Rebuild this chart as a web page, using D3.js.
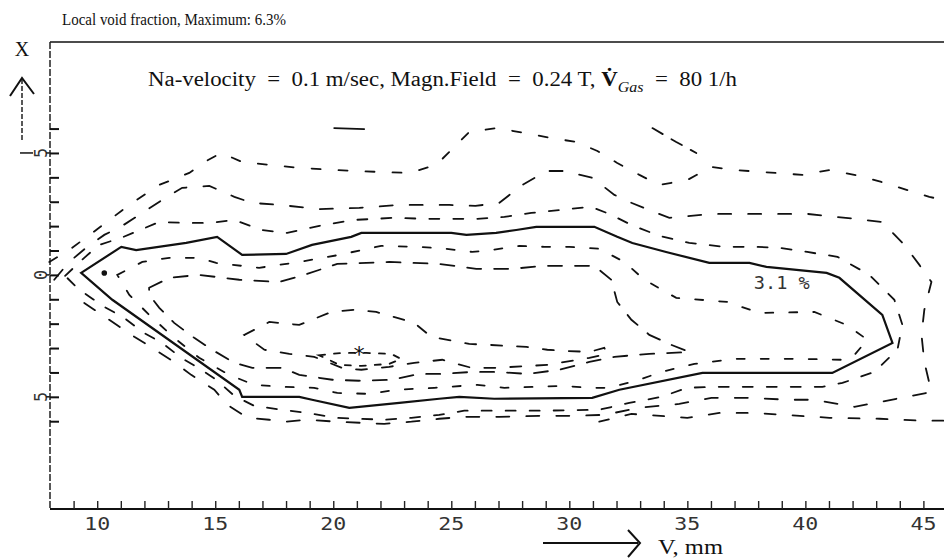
<!DOCTYPE html>
<html>
<head>
<meta charset="utf-8">
<script src="https://cdn.jsdelivr.net/npm/d3@7/dist/d3.min.js"></script>
<style>
  body { margin: 0; background: #fff; }
  svg { display: block; }
  .serif { font-family: "Liberation Serif", "Times New Roman", serif; fill: #111; }
  .plot { font-family: "DejaVu Sans Mono", monospace; fill: #333; }
</style>
</head>
<body>
<div class="chart"></div>
<script>
// axis ticks (V in mm along bottom, X along left)
var vTicks = d3.range(9, 46);
var vLabels = [10, 15, 20, 25, 30, 35, 40, 45];
var xTicks = d3.range(-6, 7);
var xLabels = [-5, 0, 5];

// 3.1 % contour (solid), [V mm, X]
var contour31 = [[9.32,-0.08],[11.02,-1.15],[11.65,-1.02],[13.77,-1.31],[15.08,-1.56],[16.14,-0.82],[18.0,-0.86],[19.1,-1.23],[20.76,-1.56],[21.19,-1.72],[25.0,-1.72],[25.64,-1.64],[26.9,-1.72],[27.75,-1.84],[28.6,-1.97],[31.06,-1.97],[32.03,-1.56],[32.67,-1.31],[34.1,-0.94],[35.93,-0.49],[37.63,-0.49],[38.35,-0.33],[40.9,-0.08],[41.44,0.12],[43.26,1.64],[43.69,2.79],[41.14,4.02],[35.64,4.02],[32.12,4.71],[30.97,5.04],[26.82,5.08],[25.34,5.0],[24.49,5.08],[22.8,5.25],[20.68,5.45],[19.1,5.12],[18.56,5.0],[16.14,5.0],[16.02,4.71],[10.64,1.02]];

// dashed contours inside the 3.1 % line
var inner1 = [[10.85,0],[11.91,-0.53],[13.05,-0.70],[14.32,-0.70],[15.04,-0.49],[16.86,-0.29],[18.56,-0.53],[20.25,-0.82],[22.03,-1.19],[23.64,-1.15],[24.79,-1.07],[25.89,-0.94],[26.69,-1.02],[27.88,-1.19],[28.94,-1.15],[30.0,-1.15],[31.27,-1.07],[32.33,-0.53],[33.18,0.20],[34.53,0.94],[36.69,1.11],[38.05,1.56],[40.38,1.52],[41.74,2.05],[42.63,2.66],[42.08,3.28],[41.53,3.48],[39.62,3.44],[37.08,3.44],[35.30,3.65],[33.90,3.98],[32.97,4.30],[31.69,4.63],[30.93,4.63],[29.70,4.55],[27.25,4.63],[26.10,4.51],[24.28,4.63],[22.67,4.71],[21.53,4.88],[20.17,4.84],[19.19,4.63],[17.84,4.59],[16.65,4.51],[15.59,4.10],[14.32,3.40],[13.26,2.58],[12.20,1.64],[11.36,0.82]];
var inner2 = [[12.20,0.53],[13.05,0.12],[14.32,0],[16.02,0.20],[17.71,0.29],[18.77,0],[20.17,-0.45],[22.37,-0.53],[24.49,-0.45],[26.06,-0.25],[27.58,-0.25],[28.94,-0.37],[31.06,-0.37],[31.78,0.20],[32.03,1.11],[32.63,1.84],[33.39,2.46],[34.32,2.87],[35.08,3.16],[33.39,3.24],[31.91,3.36],[30.85,3.57],[29.58,3.89],[28.22,4.06],[26.91,3.98],[25.85,3.98],[24.62,4.06],[23.64,4.06],[22.46,4.30],[21.10,4.34],[19.96,4.30],[18.56,4.10],[17.84,3.81],[16.57,3.81],[15.81,3.61],[14.87,3.07],[14.11,2.58],[13.26,1.97],[12.63,1.35],[12.20,0.82]];
var inner3 = [[16.23,2.46],[17.29,1.93],[18.56,2.05],[19.92,1.52],[20.89,1.43],[21.82,1.52],[22.71,1.76],[23.43,1.97],[24.15,2.54],[25.76,2.83],[28.18,2.95],[29.07,3.07],[29.70,3.11],[30.85,3.16],[31.48,2.99],[31.61,3.24],[30.85,3.40],[29.07,3.69],[26.91,3.81],[25.85,3.81],[24.62,3.48],[23.43,3.61],[22.37,3.77],[21.19,3.89],[20.47,3.85],[19.19,3.36],[18.14,3.24],[17.08,3.07]];
var inner4 = [[19.4,3.30],[20.34,3.20],[21.40,3.20],[22.46,3.24],[22.88,3.45],[22.37,3.65],[21.19,3.73],[20.25,3.69],[19.75,3.45]];

// dashed contours outside the 3.1 % line
var outer1 = [[8.64,0.04],[9.45,-0.70],[10.08,-1.23],[11.02,-1.52],[12.63,-2.17],[13.81,-2.13],[14.75,-2.13],[15.81,-2.25],[16.95,-1.84],[18.05,-1.72],[19.41,-2.01],[20.81,-2.25],[22.58,-2.34],[23.86,-2.30],[26.10,-2.30],[27.25,-2.38],[28.39,-2.54],[29.58,-2.66],[30.93,-2.79],[31.69,-2.50],[32.63,-2.05],[33.81,-1.60],[35.08,-1.31],[36.57,-1.15],[37.92,-1.15],[38.90,-1.11],[40.08,-0.94],[41.36,-0.74],[42.71,0],[43.77,1.02],[44.11,2.05],[43.90,3.07],[42.92,3.98],[41.57,4.43],[40.72,4.59],[38.05,4.59],[36.02,4.59],[35.0,4.63],[33.90,5.0],[32.54,5.25],[31.27,5.53],[28.73,5.57],[26.61,5.57],[25.55,5.57],[24.49,5.74],[23.31,5.86],[22.16,5.94],[20.13,5.86],[18.90,5.66],[17.80,5.53],[16.65,5.37],[15.81,4.96],[15.04,4.30],[14.41,3.89],[13.56,3.40],[12.75,2.79],[11.91,2.34],[11.14,1.76],[10.30,1.31],[9.24,0.61]];
var outer2 = [[8.18,0.20],[8.81,-0.53],[9.58,-1.15],[10.30,-1.64],[11.06,-2.01],[11.91,-2.54],[12.75,-3.07],[13.60,-3.57],[14.75,-3.65],[15.81,-3.20],[16.57,-2.95],[17.71,-2.87],[19.41,-2.70],[21.10,-2.75],[22.80,-2.87],[24.92,-2.87],[26.02,-2.83],[27.03,-2.95],[28.01,-3.69],[29.03,-4.26],[29.79,-4.26],[30.97,-3.98],[31.91,-3.28],[32.54,-2.99],[33.60,-2.58],[34.24,-2.34],[36.06,-2.50],[37.33,-2.50],[38.60,-2.50],[40.08,-2.50],[42.08,-2.30],[43.26,-2.17],[44.19,-1.23],[44.83,-0.41],[45.34,0.29],[45.04,1.43],[44.92,2.46],[45.04,3.57],[45.34,4.80],[44.28,5.0],[43.22,5.20],[42.08,5.41],[40.38,5.12],[39.24,5.12],[37.63,5.04],[36.02,5.04],[34.66,5.29],[32.97,5.45],[31.48,5.74],[30.0,5.78],[28.73,5.78],[27.03,5.82],[25.55,5.82],[24.49,5.90],[23.31,6.02],[22.16,6.11],[20.13,6.02],[18.90,5.94],[18.01,6.02],[17.29,5.94],[16.36,5.86],[15.51,5.33],[14.96,4.71],[13.98,4.10],[13.26,3.57],[12.33,2.99],[11.57,2.54],[10.51,1.84],[9.45,1.15]];
var outer3Top = [[7.97,-0.53],[8.81,-1.02],[10.08,-1.93],[11.36,-2.87],[12.63,-3.69],[13.90,-4.18],[14.62,-4.67],[15.25,-5.0],[16.14,-4.63],[17.29,-4.51],[18.56,-4.39],[20.13,-4.30],[21.95,-4.22],[23.22,-4.18],[24.36,-4.51],[25.04,-5.16],[25.76,-5.86],[26.95,-6.02],[28.09,-5.82],[29.24,-5.61],[30.30,-5.45],[31.19,-5.08],[32.03,-4.59],[32.97,-4.10],[33.81,-3.69],[35.0,-3.89],[36.02,-4.43],[36.99,-4.30],[38.18,-4.22],[39.87,-4.10],[41.02,-4.30],[42.29,-4.06],[43.22,-3.81],[44.32,-3.48],[45.25,-3.20],[45.85,-3.07]];
var outer3Bottom = [[45.85,5.98],[44.96,5.98],[43.14,5.90],[41.02,5.86],[39.11,5.74],[37.84,5.66],[36.36,5.66],[35.0,5.86],[33.18,5.74],[32.63,5.70],[31.27,6.02]];
var outer4a = [[20.04,-6.02],[21.31,-5.98]];
var outer4b = [[33.52,-6.02],[34.53,-5.45],[35.38,-5.0]];

var maxPoint = [21.1, 2.95];
var dotPoint = [10.3, -0.08];
var label31 = {text: "3.1 %", v: 39.0, x: 0.33};

var width = 944;
var height = 559;

var xScale = d3.scaleLinear().domain([8, 46]).range([50, 947]);
var yScale = d3.scaleLinear().domain([-9.55, 9.6]).range([42, 509]);

var svg = d3.select(".chart").append("svg")
    .attr("width", width)
    .attr("height", height);

/* titles */
svg.append("text")
    .attr("class", "serif")
    .attr("x", 62).attr("y", 25)
    .attr("textLength", 224)
    .attr("lengthAdjust", "spacingAndGlyphs")
    .style("font-size", "17px")
    .text("Local void fraction, Maximum: 6.3%");

var sub = svg.append("text")
    .attr("class", "serif")
    .attr("x", 148).attr("y", 86)
    .attr("textLength", 589)
    .attr("lengthAdjust", "spacingAndGlyphs")
    .style("font-size", "20px")
    .style("white-space", "pre");
sub.append("tspan").text("Na-velocity  =  0.1 m/sec, Magn.Field  =  0.24 T, ");
sub.append("tspan").style("font-weight", "bold").text("V\u0307");
sub.append("tspan").attr("dy", 6).style("font-style", "italic").style("font-size", "14px").text("Gas");
sub.append("tspan").attr("dy", -6).text("  =  80 1/h");

/* frame */
svg.append("line")
    .attr("x1", 50).attr("x2", width)
    .attr("y1", 42).attr("y2", 42)
    .attr("stroke", "#111").attr("stroke-width", 1.6);

svg.append("line")
    .attr("x1", 50).attr("x2", 50)
    .attr("y1", 42).attr("y2", 509)
    .attr("stroke", "#222").attr("stroke-width", 1.5)
    .attr("stroke-dasharray", "7,2");

/* bottom axis */
var xAxis = d3.axisBottom(xScale).tickValues(vTicks).tickSize(-8).tickFormat("");
var gx = svg.append("g")
    .attr("transform", `translate(0, ${yScale(9.6)})`)
    .call(xAxis);
gx.select(".domain").attr("d", `M50,0H${width}`).attr("stroke", "#111").attr("stroke-width", 2);
gx.selectAll(".tick line").attr("stroke", "#222").attr("stroke-width", 1.4);

svg.append("g").selectAll("text")
    .data(vLabels).enter()
    .append("text")
    .attr("class", "plot")
    .attr("x", d => xScale(d) - 13)
    .attr("y", 530)
    .attr("textLength", 26)
    .attr("lengthAdjust", "spacingAndGlyphs")
    .style("font-size", "17px")
    .text(d => d);

/* left axis */
var yAxis = d3.axisRight(yScale).tickValues(xTicks).tickSize(9).tickFormat("");
var gy = svg.append("g")
    .attr("transform", "translate(50, 0)")
    .call(yAxis);
gy.select(".domain").remove();
gy.selectAll(".tick line").attr("stroke", "#111").attr("stroke-width", 2);

var yl = svg.append("g").selectAll("g")
    .data(xLabels).enter()
    .append("g")
    .attr("transform", d => `translate(41, ${yScale(d)})`);
yl.append("text")
    .attr("class", "plot")
    .attr("transform", "rotate(-90)")
    .attr("text-anchor", "middle")
    .attr("dy", "0.35em")
    .style("font-size", "17px")
    .text(d => Math.abs(d));
yl.filter(d => d < 0).append("line")
    .attr("x1", -21).attr("x2", -8)
    .attr("y1", 0).attr("y2", 0)
    .attr("stroke", "#222").attr("stroke-width", 1.6);
yl.append("line")
    .attr("x1", 5).attr("x2", 9)
    .attr("y1", 0).attr("y2", 0)
    .attr("stroke", "#222").attr("stroke-width", 1.6);

/* axis names and arrows */
svg.append("text")
    .attr("class", "serif")
    .attr("x", 22).attr("y", 56)
    .attr("text-anchor", "middle")
    .style("font-size", "20px")
    .text("X");
svg.append("line")
    .attr("x1", 22).attr("x2", 22)
    .attr("y1", 79).attr("y2", 141)
    .attr("stroke", "#222").attr("stroke-width", 1.5)
    .attr("stroke-dasharray", "5,2");
svg.append("path")
    .attr("d", "M10,96 L22,78 L34,94")
    .attr("fill", "none").attr("stroke", "#111").attr("stroke-width", 2);

svg.append("line")
    .attr("x1", 543).attr("x2", 638)
    .attr("y1", 543).attr("y2", 543)
    .attr("stroke", "#111").attr("stroke-width", 2);
svg.append("path")
    .attr("d", "M628,530 L640,543 L628,557")
    .attr("fill", "none").attr("stroke", "#111").attr("stroke-width", 2);
svg.append("text")
    .attr("class", "serif")
    .attr("x", 658).attr("y", 554)
    .attr("textLength", 65)
    .attr("lengthAdjust", "spacingAndGlyphs")
    .style("font-size", "20px")
    .text("V, mm");

/* contours */
var line = d3.line()
    .x(d => xScale(d[0]))
    .y(d => yScale(d[1]));
var closedLine = d3.line()
    .x(d => xScale(d[0]))
    .y(d => yScale(d[1]))
    .curve(d3.curveLinearClosed);

var lines = svg.append("g")
    .attr("fill", "none")
    .attr("stroke", "#111")
    .attr("stroke-linecap", "round");

var dashed = [
    {pts: inner4, closed: true, dash: "6,9"},
    {pts: inner3, closed: true, dash: "11,15"},
    {pts: inner2, closed: true, dash: "14,13"},
    {pts: inner1, closed: true, dash: "8,16"},
    {pts: outer1, closed: true, dash: "10,14"},
    {pts: outer2, closed: false, dash: "13,17"},
    {pts: outer3Top, closed: false, dash: "9,18"},
    {pts: outer3Bottom, closed: false, dash: "11,17"},
    {pts: outer4a, closed: false, dash: "none"},
    {pts: outer4b, closed: false, dash: "12,10"}
];

lines.selectAll(".dash")
    .data(dashed).enter()
    .append("path")
    .attr("class", "dash")
    .attr("d", d => d.closed ? closedLine(d.pts) : line(d.pts))
    .attr("stroke-width", 1.8)
    .attr("stroke-dasharray", d => d.dash);

lines.append("path")
    .attr("d", closedLine(contour31))
    .attr("stroke-width", 2.2);

/* marks */
svg.append("circle")
    .attr("cx", xScale(dotPoint[0]))
    .attr("cy", yScale(dotPoint[1]))
    .attr("r", 2.8)
    .attr("fill", "#111");

svg.append("text")
    .attr("class", "plot")
    .attr("x", xScale(maxPoint[0]))
    .attr("y", yScale(maxPoint[1]))
    .attr("dy", "0.7em")
    .attr("text-anchor", "middle")
    .style("font-size", "22px")
    .style("fill", "#111")
    .text("*");

svg.append("text")
    .attr("class", "plot")
    .attr("x", xScale(label31.v) - 28)
    .attr("y", yScale(label31.x))
    .attr("dy", "0.35em")
    .attr("textLength", 56)
    .attr("lengthAdjust", "spacingAndGlyphs")
    .style("font-size", "18px")
    .text(label31.text);
</script>
</body>
</html>
